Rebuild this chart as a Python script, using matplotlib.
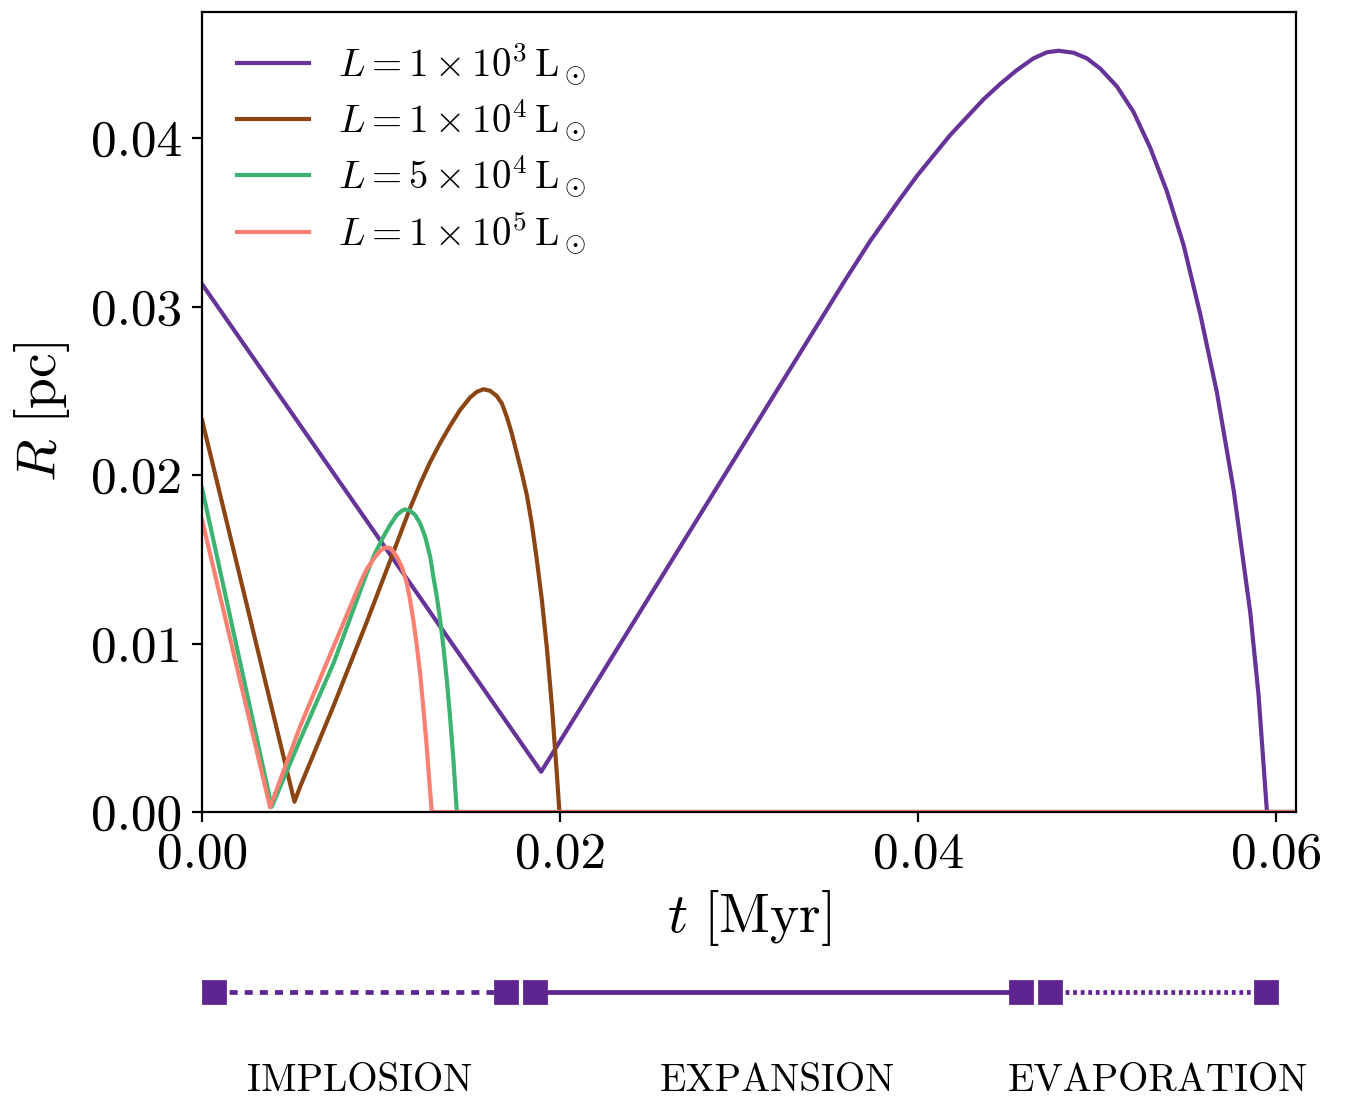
import matplotlib
matplotlib.use("Agg")
import matplotlib.pyplot as plt

plt.rcParams['mathtext.fontset'] = 'cm'
plt.rcParams['font.family'] = 'serif'
plt.rcParams['font.serif'] = ['cmr10']
plt.rcParams['axes.formatter.use_mathtext'] = True

# ---- data (t in Myr, R in pc) ----
t_1e3 = [0.0, 0.01894, 0.03592, 0.03732, 0.03899, 0.03993, 0.04086, 0.04179, 0.04272,
         0.04365, 0.04458, 0.04551, 0.04644, 0.04719, 0.04784, 0.04868, 0.04942,
         0.05017, 0.0511, 0.05203, 0.05296, 0.05389, 0.05482, 0.05575, 0.05669,
         0.05762, 0.05855, 0.05901, 0.05948, 0.0611]
R_1e3 = [0.03133, 0.00239, 0.03157, 0.03389, 0.03639, 0.03775, 0.03897, 0.04018, 0.04124,
         0.0423, 0.04321, 0.04403, 0.04473, 0.04509, 0.04518, 0.04506, 0.04473,
         0.04412, 0.04306, 0.04154, 0.03942, 0.03684, 0.03366, 0.02957, 0.02487,
         0.0191, 0.01182, 0.00694, 0.0, 0.0]

t_1e4 = [0.0, 0.00516, 0.00547, 0.00734, 0.0092, 0.0105, 0.01162, 0.01218, 0.01274,
         0.0133, 0.01385, 0.01441, 0.01497, 0.01535, 0.01572, 0.01609, 0.01646,
         0.01674, 0.01702, 0.0173, 0.01758, 0.01786, 0.01814, 0.01842, 0.0187,
         0.01898, 0.01926, 0.01954, 0.01982, 0.01996, 0.0611]
R_1e4 = [0.02326, 0.00061, 0.00148, 0.00629, 0.01128, 0.0149, 0.01804, 0.01947, 0.02077,
         0.0219, 0.02291, 0.02386, 0.0246, 0.02494, 0.02509, 0.025, 0.02469,
         0.02426, 0.02346, 0.02247, 0.02129, 0.02012, 0.01881, 0.01709, 0.01496,
         0.01258, 0.00973, 0.00629, 0.0022, 0.0, 0.0]

t_5e4 = [0.0, 0.00389, 0.00547, 0.00734, 0.0092, 0.00966, 0.01013, 0.0105, 0.01088,
         0.01116, 0.01134, 0.01162, 0.0119, 0.01218, 0.01246, 0.01274, 0.01292,
         0.01311, 0.0133, 0.01348, 0.01367, 0.01385, 0.01404, 0.01423, 0.0611]
R_5e4 = [0.01921, 0.00031, 0.00427, 0.00882, 0.01417, 0.01535, 0.01634, 0.01703, 0.01763,
         0.01788, 0.01796, 0.01788, 0.01763, 0.01713, 0.01634, 0.01515, 0.01396,
         0.01278, 0.01139, 0.00981, 0.00783, 0.00566, 0.00309, 0.0, 0.0]

t_1e5 = [0.0, 0.0038, 0.00547, 0.00734, 0.00827, 0.00883, 0.0092, 0.00966, 0.00994,
         0.01022, 0.0105, 0.01067, 0.01088, 0.01116, 0.01144, 0.01162, 0.0118,
         0.01199, 0.01218, 0.01236, 0.01255, 0.01268, 0.01283, 0.0611]
R_1e5 = [0.01733, 0.00028, 0.00506, 0.00981, 0.01217, 0.01359, 0.01442, 0.01513, 0.01549,
         0.0157, 0.01567, 0.01546, 0.01515, 0.01454, 0.01357, 0.01258, 0.01139,
         0.00991, 0.00823, 0.00617, 0.00388, 0.00202, 0.0, 0.0]

labels = [r'$L = 1\times10^{3}\,\mathrm{L}_\odot$',
          r'$L = 1\times10^{4}\,\mathrm{L}_\odot$',
          r'$L = 5\times10^{4}\,\mathrm{L}_\odot$',
          r'$L = 1\times10^{5}\,\mathrm{L}_\odot$']
colors = ['#663399', '#8B4513', '#3CB371', '#FA8072']

phase_names = ['IMPLOSION', 'EXPANSION', 'EVAPORATION']
phase_start = [0.00064, 0.01859, 0.04737]
phase_end = [0.01696, 0.04573, 0.05942]
phase_styles = [(0, (1.7, 1.5)), '-', (0, (0.8, 0.8))]

xmax = 0.0611
ymax = 0.04748

fig = plt.figure(figsize=(6.74, 5.49), dpi=200)
ax = fig.add_axes([0.1499, 0.26047, 0.8115, 0.7286])

series = [(t_1e3, R_1e3), (t_1e4, R_1e4), (t_5e4, R_5e4), (t_1e5, R_1e5)]
for (t, R), c, lab in zip(series, colors, labels):
    ax.plot(t, R, color=c, lw=1.5, label=lab, solid_joinstyle='round')

ax.set_xlim(0, xmax)
ax.set_ylim(0, ymax)
ax.set_xticks([0.0, 0.02, 0.04, 0.06])
ax.set_yticks([0.0, 0.01, 0.02, 0.03, 0.04])
ax.set_xticklabels(['0.00', '0.02', '0.04', '0.06'])
ax.set_yticklabels(['0.00', '0.01', '0.02', '0.03', '0.04'])
ax.tick_params(labelsize=18.5)
ax.set_xlabel(r'$t\ [\mathrm{Myr}]$', fontsize=20, labelpad=4)
ax.set_ylabel(r'$R\ [\mathrm{pc}]$', fontsize=20, labelpad=7)
ax.legend(loc='upper left', bbox_to_anchor=(0, 1.007), frameon=False, fontsize=14,
          handlelength=1.85, handletextpad=0.75, labelspacing=0.27)

# timeline of phases
ax2 = fig.add_axes([0.1499, 0.0, 0.8115, 0.1348])
ax2.set_xlim(0, xmax)
ax2.set_ylim(0, 1)
ax2.axis('off')
tl_color = '#5E2591'
for s, e, ls, name in zip(phase_start, phase_end, phase_styles, phase_names):
    ax2.plot([s, e], [0.716, 0.716], color=tl_color, lw=1.7, linestyle=ls,
             marker='s', markersize=7.8, clip_on=False)
    ax2.text((s + e) / 2, 0.045, name, ha='center', va='baseline', fontsize=14)

fig.savefig('out.png', dpi=200)
